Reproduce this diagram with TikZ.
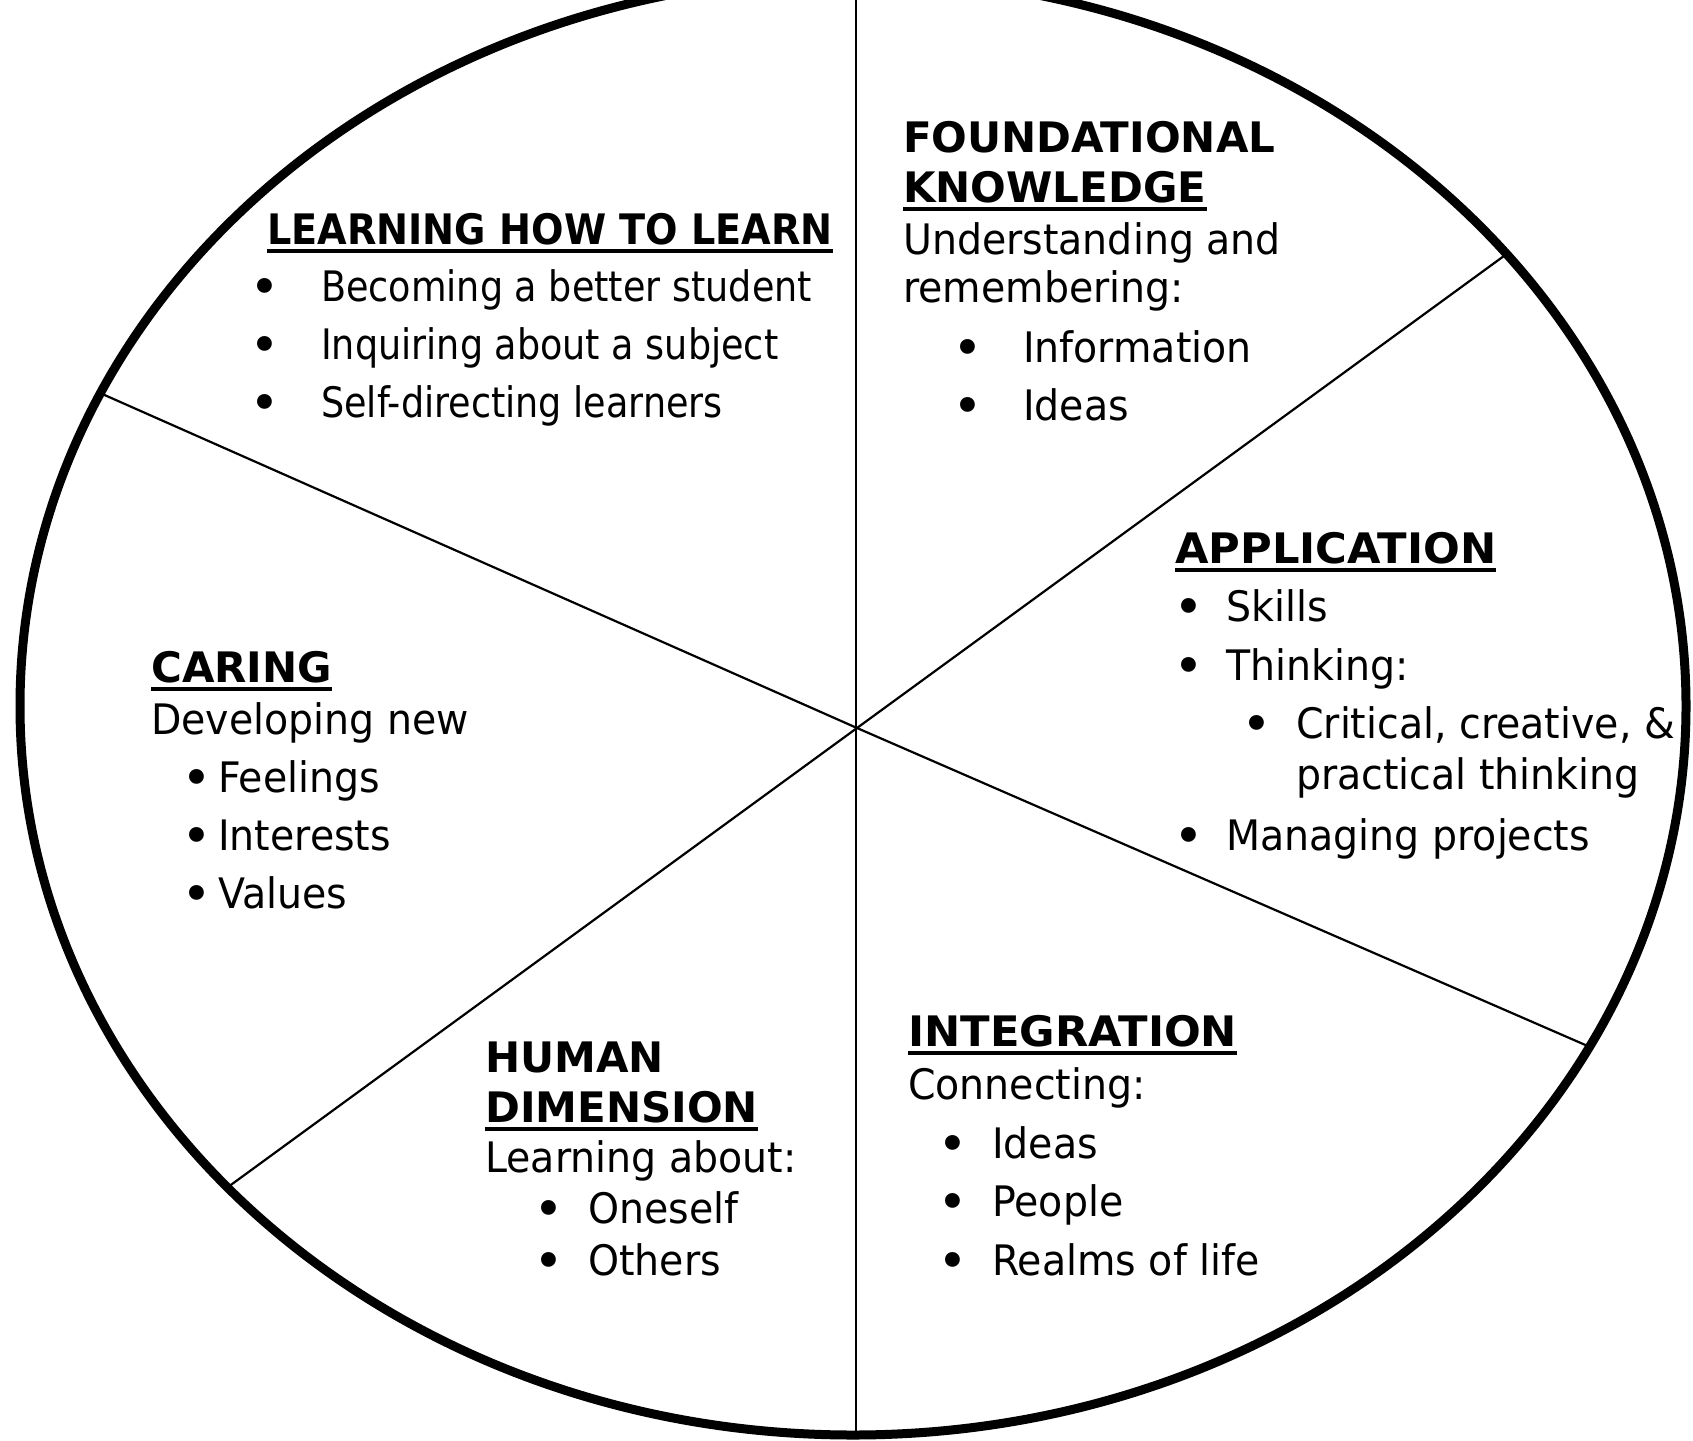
\documentclass[tikz,border=0pt]{standalone}
\usepackage{fontspec}
\setmainfont{DejaVu Sans}[FakeStretch=0.94]
\newfontfamily\narrowf{DejaVu Sans}[FakeStretch=0.87]
\newfontfamily\headf{DejaVu Sans}
\newfontfamily\headwide{DejaVu Sans}[FakeStretch=1.03]
\newfontfamily\headnarrow{DejaVu Sans}[FakeStretch=0.91]
\tikzset{
  txt/.style={anchor=base west, inner sep=0pt, font=\fontsize{42}{50}\selectfont},
  txtn/.style={anchor=base west, inner sep=0pt, font=\narrowf\fontsize{42}{50}\selectfont},
  hd/.style={anchor=base west, inner sep=0pt, font=\headf\bfseries\fontsize{42}{50}\selectfont},
  hdw/.style={anchor=base west, inner sep=0pt, font=\headwide\bfseries\fontsize{42}{50}\selectfont},
  hdn/.style={anchor=base west, inner sep=0pt, font=\headnarrow\bfseries\fontsize{42}{50}\selectfont},
  bul/.style={anchor=base, inner sep=0pt, font=\headf\bfseries\fontsize{42}{50}\selectfont},
  ul/.style={line width=3.5pt},
  rim/.style={line width=9pt},
  spoke/.style={line width=2.2pt}
}
\newcommand{\ulline}[1]{\draw[ul] ([yshift=-7pt]#1.base west) -- ([yshift=-7pt]#1.base east);}
\begin{document}
\begin{tikzpicture}[x=1pt,y=-1pt]
\fill[white] (0,0) rectangle (1693,1440);
\useasboundingbox (0,0) rectangle (1693,1440);

% spokes
\coordinate (c) at (857,728);
\coordinate (vt) at (856,-30);
\coordinate (vb) at (856,1434);
\coordinate (a1) at (100,393);
\coordinate (a2) at (1590,1047);
\coordinate (b1) at (1508,253);
\coordinate (b2) at (228,1187);
\draw[spoke] (vt) -- (vb);
\draw[spoke] (a1) -- (c) -- (a2);
\draw[spoke] (b1) -- (c) -- (b2);

% rim
\draw[rim] (853,706) ellipse [x radius=833pt, y radius=729pt];

% LEARNING HOW TO LEARN
\node[hdn] (h1) at (267,244) {LEARNING HOW TO LEARN};
\ulline{h1}
\node[bul] (p1a) at (265,301) {•};
\node[bul] (p1b) at (265,359) {•};
\node[bul] (p1c) at (265,417) {•};
\node[txtn] (l1a) at (321,301) {Becoming a better student};
\node[txtn] (l1b) at (321,359) {Inquiring about a subject};
\node[txtn] (l1c) at (321,417) {Self-directing learners};

% FOUNDATIONAL KNOWLEDGE
\node[hd] (h2a) at (903,152) {FOUNDATIONAL};
\node[hd] (h2b) at (903,202) {KNOWLEDGE};
\ulline{h2b}
\node[txt] (t2a) at (903,254) {Understanding and};
\node[txt] (t2b) at (903,302) {remembering:};
\node[bul] (p2a) at (968,362) {•};
\node[bul] (p2b) at (968,420) {•};
\node[txt] (t2c) at (1023,362) {Information};
\node[txt] (t2d) at (1023,420) {Ideas};

% APPLICATION
\node[hdw] (h3) at (1175,563) {APPLICATION};
\ulline{h3}
\node[bul] (p3a) at (1189,621) {•};
\node[bul] (p3b) at (1189,680) {•};
\node[bul] (p3c) at (1257,738) {•};
\node[bul] (p3d) at (1189,850) {•};
\node[txt] (t3a) at (1226,621) {Skills};
\node[txt] (t3b) at (1226,680) {Thinking:};
\node[txt] (t3c) at (1296,738) {Critical, creative, \&};
\node[txt] (t3d) at (1296,789) {practical thinking};
\node[txt] (t3e) at (1226,850) {Managing projects};

% INTEGRATION
\node[hdw] (h4) at (908,1046) {INTEGRATION};
\ulline{h4}
\node[txt] (t4a) at (908,1099) {Connecting:};
\node[bul] (p4a) at (953,1158) {•};
\node[bul] (p4b) at (953,1216) {•};
\node[bul] (p4c) at (953,1275) {•};
\node[txt] (t4b) at (992,1158) {Ideas};
\node[txt] (t4c) at (992,1216) {People};
\node[txt] (t4d) at (992,1275) {Realms of life};

% HUMAN DIMENSION
\node[hd] (h5a) at (485,1072) {HUMAN};
\node[hd] (h5b) at (485,1122) {DIMENSION};
\ulline{h5b}
\node[txt] (t5a) at (485,1172) {Learning about:};
\node[bul] (p5a) at (549,1223) {•};
\node[bul] (p5b) at (549,1275) {•};
\node[txt] (t5b) at (588,1223) {Oneself};
\node[txt] (t5c) at (588,1275) {Others};

% CARING
\node[hd] (h6) at (151,682) {CARING};
\ulline{h6}
\node[txt] (t6a) at (151,734) {Developing new};
\node[bul] (p6a) at (197,792) {•};
\node[bul] (p6b) at (197,850) {•};
\node[bul] (p6c) at (197,908) {•};
\node[txt] (t6b) at (218,792) {Feelings};
\node[txt] (t6c) at (218,850) {Interests};
\node[txt] (t6d) at (218,908) {Values};
\end{tikzpicture}
\end{document}
